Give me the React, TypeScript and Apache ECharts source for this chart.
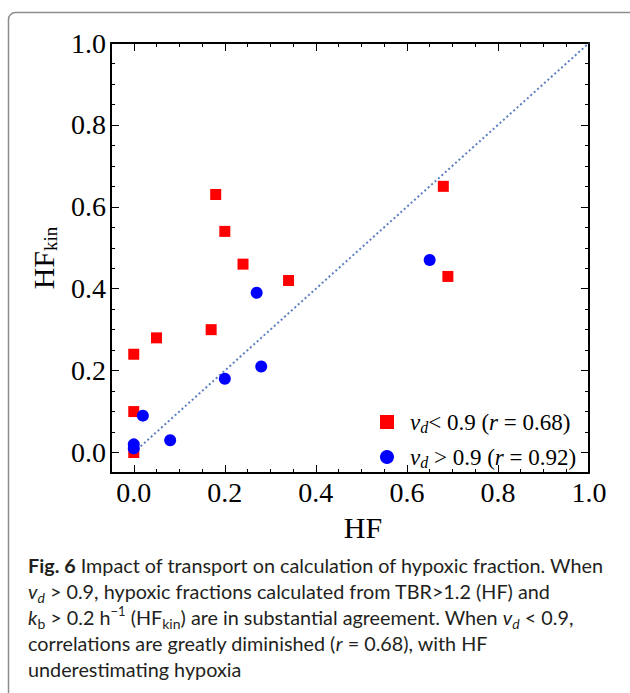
import React, { useEffect, useRef } from "react";
import * as echarts from "echarts";

// ---- data ----
const majorTicks = [0, 0.2, 0.4, 0.6, 0.8, 1.0];
const lowVdHF = [0.0, 0.0, 0.0, 0.05, 0.17, 0.18, 0.2, 0.24, 0.34, 0.68, 0.69];
const lowVdHFkin = [0.0, 0.1, 0.24, 0.28, 0.3, 0.63, 0.54, 0.46, 0.42, 0.65, 0.43];
const highVdHF = [0.0, 0.0, 0.02, 0.08, 0.2, 0.27, 0.28, 0.65];
const highVdHFkin = [0.01, 0.02, 0.09, 0.03, 0.18, 0.39, 0.21, 0.47];
const identityX = [0, 1];
const identityY = [0, 1];
const seriesNames = ["vd < 0.9 (r = 0.68)", "vd > 0.9 (r = 0.92)"];
const legendRich = ["{g| }{i|v}{s|d}< 0.9 ({i|r} = 0.68)", "{g| }{i|v}{s|d} > 0.9 ({i|r} = 0.92)"];
const captionLines = [
  "{b|Fig. 6} Impact of transport on calculation of hypoxic fraction. When",
  "{i|v}{sd|d} > 0.9, hypoxic fractions calculated from TBR>1.2 (HF) and",
  "{i|k}{sub|b} > 0.2 h{sup|\u22121} (HF{sub|kin}) are in substantial agreement. When {i|v}{sd|d} < 0.9,",
  "correlations are greatly diminished ({i|r} = 0.68), with HF",
  "underestimating hypoxia",
];

const SERIF = "'Liberation Serif', 'Times New Roman', serif";
const SANS = "Lato, 'Noto Sans', sans-serif";
const CAP = 19.8;
const MIN = -0.05;
const MAX = 1.0;

function minorAxis(position: string) {
  return {
    type: "value",
    position,
    min: MIN,
    max: MAX,
    interval: 0.05,
    axisLine: { show: true, onZero: false, lineStyle: { color: "#000", width: 2 } },
    axisTick: { show: true, inside: true, length: 4, lineStyle: { color: "#000", width: 1 } },
    axisLabel: { show: false },
    splitLine: { show: false },
  };
}

function majorAxis(position: string, labels: boolean, extra: any = {}) {
  return {
    type: "value",
    position,
    min: MIN,
    max: MAX,
    axisLine: { show: false, onZero: false },
    axisTick: {
      show: true,
      inside: true,
      length: 8,
      customValues: majorTicks,
      lineStyle: { color: "#000", width: 1 },
    },
    axisLabel: {
      show: labels,
      customValues: majorTicks,
      formatter: (v: number) => v.toFixed(1),
      fontFamily: SERIF,
      fontSize: 28,
      color: "#000",
      margin: 5,
    },
    splitLine: { show: false },
    ...extra,
  };
}

export default function App() {
  const ref = useRef<HTMLDivElement>(null);
  useEffect(() => {
    if (!ref.current) return;
    const chart = echarts.init(ref.current, null, { renderer: "svg" });
    const capRich = {
      b: { fontWeight: "bold", fontFamily: SANS, fontSize: CAP, lineHeight: 26 },
      i: { fontStyle: "italic", fontFamily: SANS, fontSize: CAP, lineHeight: 26 },
      sd: { fontStyle: "italic", fontFamily: SANS, fontSize: 14, lineHeight: 15, verticalAlign: "bottom" },
      sub: { fontFamily: SANS, fontSize: 14, lineHeight: 15, verticalAlign: "bottom" },
      sup: { fontFamily: SANS, fontSize: 13, lineHeight: 16, verticalAlign: "top" },
    };
    const option: any = {
      animation: false,
      grid: { left: 111, top: 43, right: 41, bottom: 220, containLabel: false },
      xAxis: [
        minorAxis("bottom"),
        majorAxis("bottom", true, {
          name: "HF",
          nameLocation: "middle",
          nameGap: 29,
          nameTextStyle: {
            fontFamily: SERIF,
            fontSize: 30,
            lineHeight: 34,
            color: "#000",
            padding: [0, 0, 0, 26],
          },
        }),
        minorAxis("top"),
        majorAxis("top", false),
      ],
      yAxis: [
        minorAxis("left"),
        majorAxis("left", true, {
          name: "{a|HF}{b|kin}",
          nameLocation: "middle",
          nameRotate: 90,
          nameGap: 47,
          nameTextStyle: {
            color: "#000",
            rich: {
              a: { fontFamily: SERIF, fontSize: 30, lineHeight: 34, color: "#000" },
              b: { fontFamily: SERIF, fontSize: 19, lineHeight: 20, verticalAlign: "bottom", color: "#000" },
            },
          },
        }),
        minorAxis("right"),
        majorAxis("right", false),
      ],
      legend: {
        orient: "vertical",
        left: 380,
        top: 409,
        padding: 0,
        itemGap: 9,
        itemWidth: 14,
        itemHeight: 14,
        data: [
          { name: seriesNames[0], icon: "rect" },
          { name: seriesNames[1], icon: "circle" },
        ],
        formatter: (name: string) => legendRich[seriesNames.indexOf(name)],
        textStyle: {
          fontFamily: SERIF,
          fontSize: 23,
          color: "#000",
          lineHeight: 26,
          rich: {
            g: { width: 11, fontSize: 23, lineHeight: 26 },
            i: { fontStyle: "italic", fontFamily: SERIF, fontSize: 23, lineHeight: 26 },
            s: { fontStyle: "italic", fontFamily: SERIF, fontSize: 16, lineHeight: 17, verticalAlign: "bottom" },
          },
        },
      },
      series: [
        {
          type: "line",
          name: "identity",
          data: identityX.map((x, k) => [x, identityY[k]]),
          xAxisIndex: 0,
          yAxisIndex: 0,
          symbol: "none",
          lineStyle: { color: "#5b80c2", width: 2, type: [2, 2.6] },
          z: 1,
          silent: true,
        },
        {
          type: "scatter",
          name: seriesNames[0],
          data: lowVdHF.map((x, k) => [x, lowVdHFkin[k]]),
          symbol: "rect",
          symbolSize: 11,
          itemStyle: { color: "#ff0000", opacity: 1 },
          z: 2,
        },
        {
          type: "scatter",
          name: seriesNames[1],
          data: highVdHF.map((x, k) => [x, highVdHFkin[k]]),
          symbol: "circle",
          symbolSize: 12,
          itemStyle: { color: "#0000ff", opacity: 1 },
          z: 3,
        },
      ],
      graphic: [
        {
          type: "rect",
          shape: { x: 8.5, y: 12.5, width: 700, height: 900, r: 7 },
          style: { fill: "none", stroke: "#8c8c8c", lineWidth: 1.5 },
          z: -1,
          silent: true,
        },
        ...captionLines.map((line, k) => ({
          type: "text",
          x: 28,
          y: 565 + k * 26,
          style: {
            text: line,
            rich: capRich,
            fontFamily: SANS,
            fontSize: CAP,
            lineHeight: 26,
            fill: "#231f20",
            verticalAlign: "middle",
          },
        })),
      ],
    };
    chart.setOption(option);
    return () => chart.dispose();
  }, []);
  return (
    <div
      ref={ref}
      style={{ position: "fixed", left: 0, top: 0, width: 630, height: 693, background: "#fff" }}
    />
  );
}
